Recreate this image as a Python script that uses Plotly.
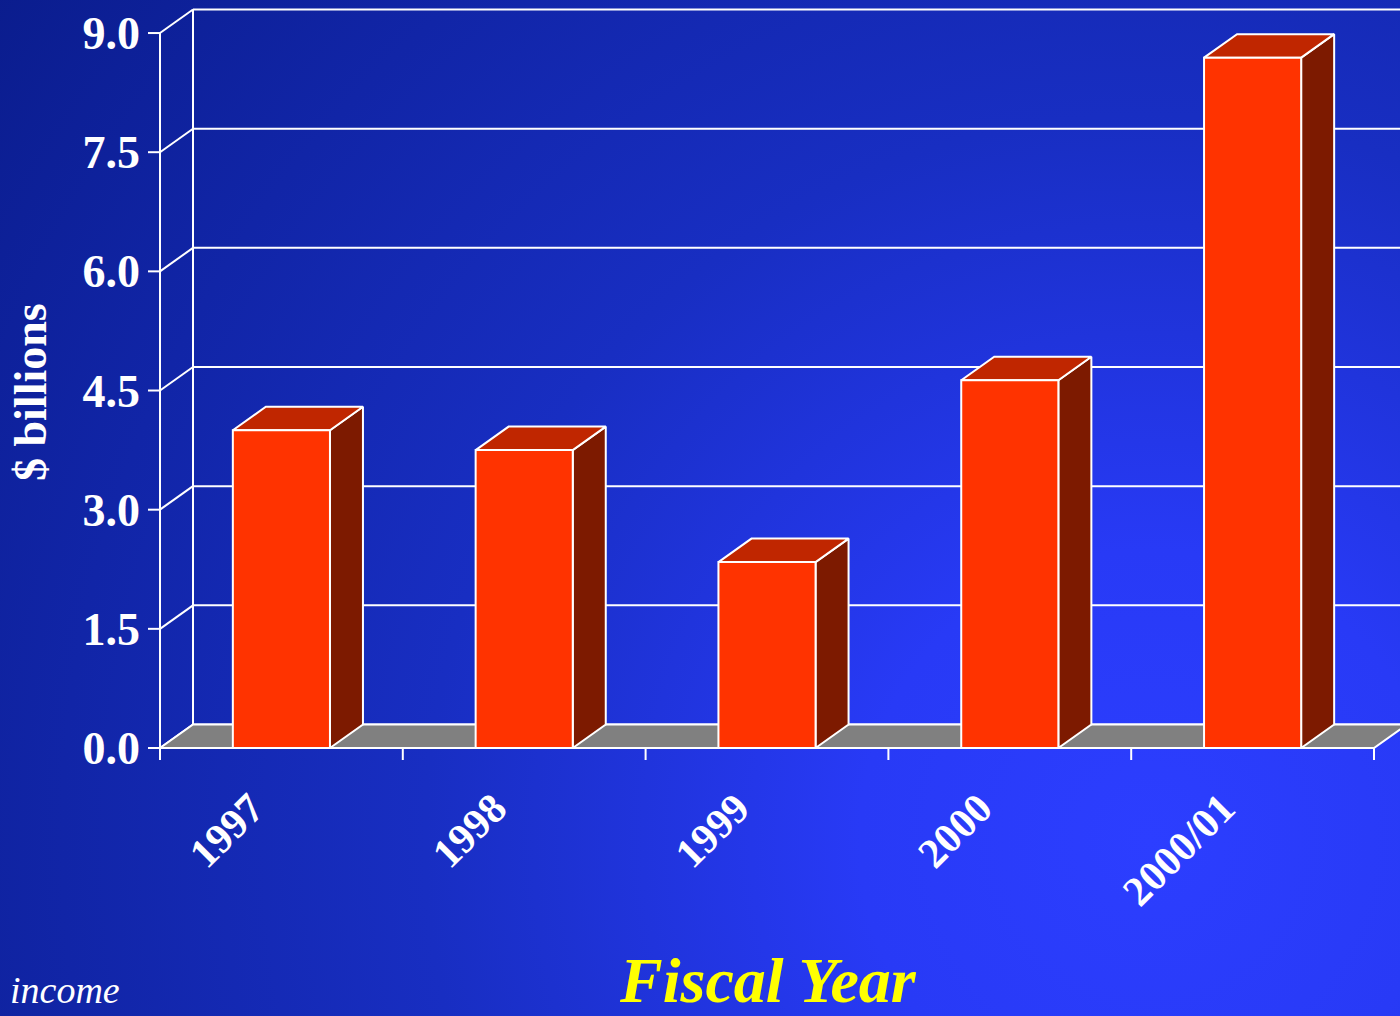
import base64
import plotly.graph_objects as go

# ---------------- data ----------------
CATEGORIES = ["1997", "1998", "1999", "2000", "2000/01"]
VALUES = [4.0, 3.75, 2.34, 4.63, 8.69]
Y_TICKS = [0.0, 1.5, 3.0, 4.5, 6.0, 7.5, 9.0]
Y_TICK_LABELS = ["0.0", "1.5", "3.0", "4.5", "6.0", "7.5", "9.0"]
Y_TITLE = "$ billions"
X_TITLE = "Fiscal Year"
FOOTNOTE = "income"

# ---------------- geometry / style ----------------
W, H = 1400, 1016
ML, MR, MT, MB = 146, 0, 6, 254
PW, PH = W - ML - MR, H - MT - MB
PX_PER_CAT = 242.8
PX_PER_UNIT = 79.44
XMIN = -0.5 - 14 / PX_PER_CAT
XMAX = XMIN + PW / PX_PER_CAT
YMIN = -14 / PX_PER_UNIT
YMAX = YMIN + PH / PX_PER_UNIT
DX = 33 / PX_PER_CAT          # depth offset (category units)
DY = 23.5 / PX_PER_UNIT       # depth offset (value units)
TICK_X = 12 / PX_PER_CAT
TICK_Y = 12 / PX_PER_UNIT
BAR_HALF = 0.2

WHITE = "#ffffff"
FRONT = "#ff3300"
TOP = "#c02600"
SIDE = "#7d1a00"
FLOOR = "#808080"
SERIF = "Liberation Serif"

n = len(CATEGORIES)
x_left = -0.5
x_right = n - 0.5
ytop = max(Y_TICKS)

fig = go.Figure()


def add_lines(xs, ys, width=2):
    fig.add_trace(go.Scatter(x=xs, y=ys, mode="lines",
                             line=dict(color=WHITE, width=width),
                             hoverinfo="skip", showlegend=False))


def add_polys(polys, fill):
    xs, ys = [], []
    for p in polys:
        for (px, py) in p + [p[0]]:
            xs.append(px)
            ys.append(py)
        xs.append(None)
        ys.append(None)
    fig.add_trace(go.Scatter(x=xs, y=ys, mode="lines", fill="toself",
                             fillcolor=fill,
                             line=dict(color=WHITE, width=2),
                             hoverinfo="skip", showlegend=False))


# back wall grid lines + left wall diagonals + front y axis + y ticks
xs, ys = [], []
for v in Y_TICKS:
    xs += [x_left + DX, XMAX, None]
    ys += [v + DY, v + DY, None]
    xs += [x_left, x_left + DX, None]
    ys += [v, v + DY, None]
    xs += [x_left - TICK_X, x_left, None]
    ys += [v, v, None]
xs += [x_left + DX, x_left + DX, None]
ys += [DY, ytop + DY, None]
xs += [x_left, x_left, None]
ys += [0, ytop, None]
add_lines(xs, ys)

# floor
add_polys([[(x_left, 0), (x_right, 0), (x_right + DX, DY), (x_left + DX, DY)]], FLOOR)

# x ticks at category boundaries
xs, ys = [], []
for i in range(n + 1):
    b = i - 0.5
    xs += [b, b, None]
    ys += [0, -TICK_Y, None]
add_lines(xs, ys)

# bars
sides, tops, fronts = [], [], []
for i, v in enumerate(VALUES):
    l, r = i - BAR_HALF, i + BAR_HALF
    sides.append([(r, 0), (r + DX, DY), (r + DX, v + DY), (r, v)])
    tops.append([(l, v), (l + DX, v + DY), (r + DX, v + DY), (r, v)])
    fronts.append([(l, 0), (r, 0), (r, v), (l, v)])
add_polys(sides, SIDE)
add_polys(tops, TOP)
add_polys(fronts, FRONT)

# ---------------- background gradient ----------------
svg = f'''<svg xmlns="http://www.w3.org/2000/svg" width="{W}" height="{H}" viewBox="0 0 {W} {H}">
<defs><radialGradient id="g" gradientUnits="userSpaceOnUse" cx="1150" cy="840" r="1450">
<stop offset="0" stop-color="#2c3eff"/>
<stop offset="0.2" stop-color="#283af6"/>
<stop offset="0.5" stop-color="#182ec2"/>
<stop offset="1" stop-color="#0a1c8c"/>
</radialGradient></defs>
<rect width="{W}" height="{H}" fill="url(#g)"/></svg>'''
src = "data:image/svg+xml;base64," + base64.b64encode(svg.encode()).decode()

fig.add_layout_image(dict(source=src, xref="paper", yref="paper",
                          x=-ML / PW, y=1 + MT / PH,
                          sizex=W / PW, sizey=H / PH,
                          xanchor="left", yanchor="top",
                          sizing="stretch", layer="below"))

# ---------------- text ----------------
fig.add_annotation(text=Y_TITLE, xref="paper", yref="paper",
                   x=(30 - ML) / PW, y=(H - MB - 392) / PH,
                   xanchor="center", yanchor="middle", textangle=-90,
                   showarrow=False,
                   font=dict(family=SERIF, size=46, color=WHITE, weight="bold"))
fig.add_annotation(text=X_TITLE, xref="paper", yref="paper",
                   x=(768 - ML) / PW, y=(H - MB - 980) / PH,
                   xanchor="center", yanchor="middle", showarrow=False,
                   font=dict(family=SERIF, size=64, color="#ffff00",
                             weight="bold", style="italic"))
fig.add_annotation(text=FOOTNOTE, xref="paper", yref="paper",
                   x=(8 - ML) / PW, y=(H - MB - 990) / PH,
                   xanchor="left", yanchor="middle", showarrow=False,
                   font=dict(family=SERIF, size=38, color=WHITE, style="italic"))

fig.update_layout(
    width=W, height=H,
    margin=dict(l=ML, r=MR, t=MT, b=MB, pad=0),
    paper_bgcolor="#1428b0",
    plot_bgcolor="rgba(0,0,0,0)",
    xaxis=dict(range=[XMIN, XMAX], tickvals=list(range(n)), ticktext=CATEGORIES,
               tickangle=-45, ticks="", showgrid=False, zeroline=False,
               showline=False, ticklabelstandoff=12, ticklabelshift=-30,
               fixedrange=True,
               tickfont=dict(family=SERIF, size=42, color=WHITE, weight="bold")),
    yaxis=dict(range=[YMIN, YMAX], tickvals=Y_TICKS, ticktext=Y_TICK_LABELS,
               ticks="", showgrid=False, zeroline=False, showline=False,
               ticklabelstandoff=5, fixedrange=True,
               tickfont=dict(family=SERIF, size=46, color=WHITE, weight="bold")),
)

fig.write_html("out.html",
               config={"displayModeBar": False},
               post_script="document.body.style.margin='0';"
                           "document.body.style.padding='0';"
                           "document.body.style.overflow='hidden';")
